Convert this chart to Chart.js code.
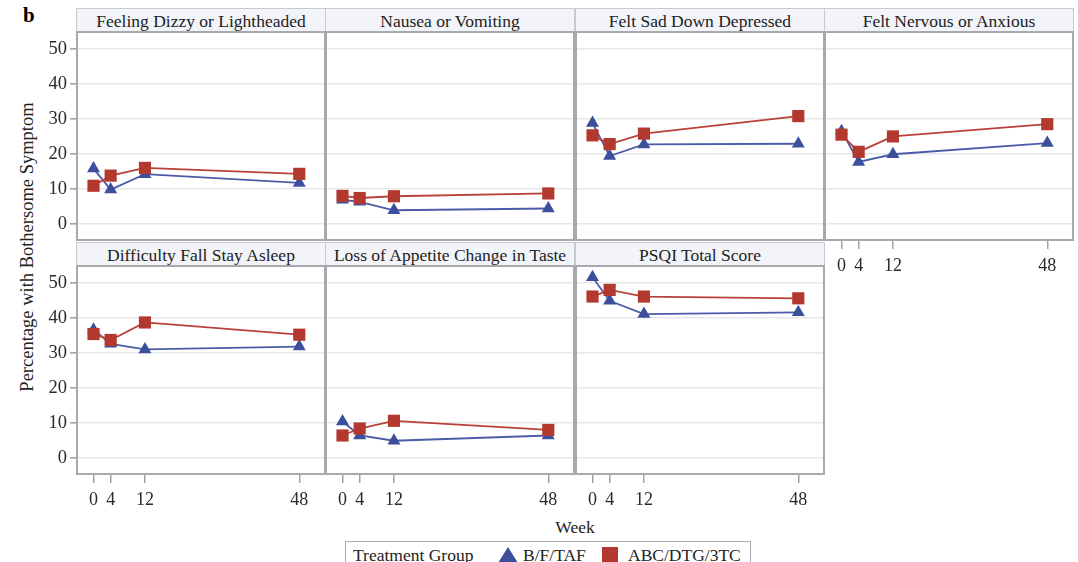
<!DOCTYPE html>
<html><head><meta charset="utf-8">
<script src="https://cdn.jsdelivr.net/npm/chart.js@4.4.1/dist/chart.umd.min.js"></script>
<style>
html,body{margin:0;padding:0;background:#fff}
body{width:1078px;height:562px;overflow:hidden;position:relative;font-family:"Liberation Serif","DejaVu Serif",serif;color:#222}
.hdr{position:absolute;box-sizing:border-box;background:#f2f4f9;border:1px solid #c6cacd;border-bottom:none;text-align:center;font-size:17.5px;line-height:24px;color:#222;white-space:nowrap;overflow:hidden}
canvas{position:absolute}
.txt{position:absolute;white-space:nowrap;font-size:17.5px;color:#222}
</style></head><body>
<div class="txt" style="left:23px;top:3px;font-size:21px;font-weight:bold;color:#000">b</div>
<div class="txt" id="ytitle" style="left:27px;top:247px;font-size:18.5px;transform:translate(-50%,-50%) rotate(-90deg);">Percentage with Bothersome Symptom</div>
<div class="txt" style="left:575px;top:527px;transform:translate(-50%,-50%);">Week</div>
<div id="legend" style="position:absolute;left:345px;top:541px;width:406px;height:30px;box-sizing:border-box;border:1px solid #a8acb0;background:#fff"></div>
<script>
// ---------- data ----------
const weeks = [0, 4, 12, 48];
const weekTickLabels = ['0', '4', '12', '48'];
const yTicks = [0, 10, 20, 30, 40, 50];
const seriesNames = ['B/F/TAF', 'ABC/DTG/3TC'];
const panelTitles = [
  'Feeling Dizzy or Lightheaded', 'Nausea or Vomiting', 'Felt Sad Down Depressed', 'Felt Nervous or Anxious',
  'Difficulty Fall Stay Asleep', 'Loss of Appetite Change in Taste', 'PSQI Total Score'
];
const bftafDizzy      = [15.9, 9.9, 14.3, 11.8];
const abcDizzy        = [11.0, 13.9, 16.1, 14.4];
const bftafNausea     = [7.0, 6.4, 4.0, 4.5];
const abcNausea       = [8.1, 7.5, 8.0, 8.8];
const bftafSad        = [28.9, 19.5, 22.8, 23.0];
const abcSad          = [25.4, 22.9, 25.9, 30.9];
const bftafNervous    = [26.6, 17.8, 20.0, 23.2];
const abcNervous      = [25.6, 20.7, 25.1, 28.6];
const bftafSleep      = [36.7, 32.7, 31.1, 31.9];
const abcSleep        = [35.5, 33.8, 38.8, 35.3];
const bftafAppetite   = [10.5, 6.5, 5.0, 6.5];
const abcAppetite     = [6.5, 8.5, 10.7, 8.1];
const bftafPsqi       = [51.7, 45.0, 41.2, 41.7];
const abcPsqi         = [46.2, 48.1, 46.2, 45.7];

const bftafSeries = [bftafDizzy, bftafNausea, bftafSad, bftafNervous, bftafSleep, bftafAppetite, bftafPsqi];
const abcSeries   = [abcDizzy, abcNausea, abcSad, abcNervous, abcSleep, abcAppetite, abcPsqi];

// ---------- styling / layout ----------
const BLUE = '#3b4f9c', BLUE_LINE = '#4a5ca8';
const RED = '#b3382e', RED_LINE = '#b8423a';
const FONT = '"Liberation Serif","DejaVu Serif",serif';
const colLeft = [77, 326, 576, 825];
const rowTop = [32, 266];
const PW = 248, PH = 208, P = 4;

const framePlugin = {
  id: 'frame',
  beforeDatasetsDraw(chart) {
    const {ctx, chartArea: a} = chart;
    ctx.save();
    ctx.strokeStyle = '#a6aaae';
    ctx.lineWidth = 2;
    ctx.strokeRect(a.left, a.top, a.right - a.left, a.bottom - a.top);
    ctx.restore();
  }
};

function makePanel(idx) {
  const r = idx < 4 ? 0 : 1;
  const c = idx < 4 ? idx : idx - 4;
  const hasY = c === 0;
  const hasX = r === 1 || (r === 0 && c === 3);
  const YA = hasY ? 45 : 0;
  const XA = hasX ? 44 : 0;
  const PL = colLeft[c], PT = rowTop[r];

  const hdr = document.createElement('div');
  hdr.className = 'hdr';
  hdr.style.left = (PL - 1) + 'px';
  hdr.style.top = (PT - 24) + 'px';
  hdr.style.width = (PW + 2) + 'px';
  hdr.style.height = '24px';
  hdr.textContent = panelTitles[idx];
  document.body.appendChild(hdr);

  const cv = document.createElement('canvas');
  const w = YA + PW + 2 * P, h = PH + XA + 2 * P;
  cv.width = w; cv.height = h;
  cv.style.width = w + 'px'; cv.style.height = h + 'px';
  cv.style.left = (PL - YA - P) + 'px';
  cv.style.top = (PT - P) + 'px';
  document.body.appendChild(cv);

  const mk = (vals) => weeks.map((wk, i) => ({x: wk, y: vals[i]}));
  new Chart(cv, {
    type: 'line',
    data: {
      datasets: [
        {label: seriesNames[0], data: mk(bftafSeries[idx]), borderColor: BLUE_LINE, backgroundColor: BLUE,
         pointBackgroundColor: BLUE, pointBorderColor: BLUE, pointStyle: 'triangle', pointRadius: 7.5,
         pointBorderWidth: 0, borderWidth: 1.8, order: 2, tension: 0},
        {label: seriesNames[1], data: mk(abcSeries[idx]), borderColor: RED_LINE, backgroundColor: RED,
         pointBackgroundColor: RED, pointBorderColor: RED, pointStyle: 'rect', pointRadius: 8.6,
         pointBorderWidth: 0, borderWidth: 1.8, order: 1, tension: 0}
      ]
    },
    options: {
      responsive: false, maintainAspectRatio: false, animation: false,
      layout: {autoPadding: false, padding: {left: P, right: P, top: P, bottom: P}},
      plugins: {legend: {display: false}, tooltip: {enabled: false}},
      scales: {
        x: {
          type: 'linear', min: -3.85, max: 54,
          afterBuildTicks(s) { s.ticks = weeks.map(v => ({value: v})); },
          afterFit(s) { s.height = XA; s.paddingLeft = 0; s.paddingRight = 0; },
          grid: {drawOnChartArea: false, drawTicks: hasX, tickLength: 9, tickColor: '#a0a4a8', lineWidth: 1.5},
          border: {display: false},
          ticks: {display: hasX, autoSkip: false, maxRotation: 0, padding: 6, color: '#2a2a2a',
                  font: {family: FONT, size: 18},
                  callback: (v, i) => weekTickLabels[i]}
        },
        y: {
          min: -4.5, max: 54.93,
          afterBuildTicks(s) { s.ticks = yTicks.map(v => ({value: v})); },
          afterFit(s) { s.width = YA; s.paddingTop = 0; s.paddingBottom = 0; },
          grid: {color: '#e6e7e9', lineWidth: 1.6, drawTicks: hasY, tickLength: 7, tickColor: '#a0a4a8'},
          border: {display: false},
          ticks: {display: hasY, padding: 3, color: '#2a2a2a', font: {family: FONT, size: 18.5}}
        }
      }
    },
    plugins: [framePlugin]
  });
}
for (let i = 0; i < panelTitles.length; i++) makePanel(i);

// ---------- legend ----------
const lg = document.getElementById('legend');
lg.innerHTML =
  '<span class="txt" style="left:7px;top:3px">Treatment Group</span>' +
  '<svg style="position:absolute;left:152px;top:5px" width="20" height="17"><polygon points="10,0 20,16 0,16" fill="' + BLUE + '"/></svg>' +
  '<span class="txt" style="left:177px;top:3px">' + seriesNames[0] + '</span>' +
  '<svg style="position:absolute;left:256px;top:5px" width="17" height="17"><rect x="0" y="0" width="16" height="16" fill="' + RED + '"/></svg>' +
  '<span class="txt" style="left:282px;top:3px">' + seriesNames[1] + '</span>';
</script>
</body></html>
